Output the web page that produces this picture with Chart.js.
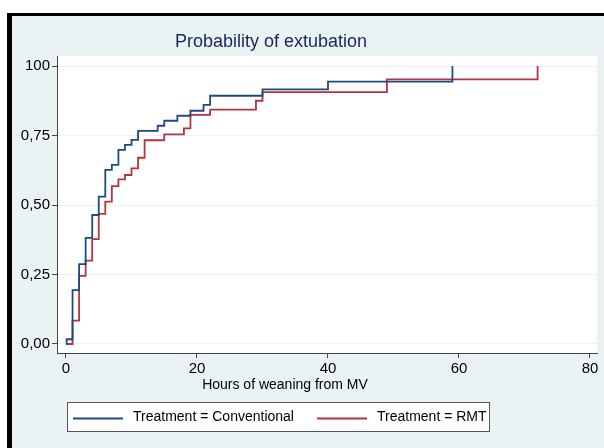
<!DOCTYPE html>
<html>
<head>
<meta charset="utf-8">
<script src="https://cdn.jsdelivr.net/npm/chart.js@4.4.1/dist/chart.umd.min.js"></script>
<style>
  html, body { margin: 0; padding: 0; background: #fff; }
  #frame {
    position: absolute; left: 7px; top: 13px; width: 592px; height: 432px;
    border-top: 3px solid #000; border-left: 5px solid #000; background: #eaf2f3;
  }
  #wrap { position: absolute; left: 0; top: 0; width: 604px; height: 448px; }
</style>
</head>
<body>
<div id="frame"></div>
<div id="wrap"><canvas id="km" width="604" height="448"></canvas></div>
<script>
// Kaplan-Meier failure estimates (hours, probability)
const convTimes = [0, 0.1, 1, 2, 3, 4, 5, 6, 7, 8, 9, 10, 11, 14, 15, 17, 19, 21, 22, 30, 40, 59];
const convProb  = [0, 0.017, 0.194, 0.287, 0.382, 0.464, 0.53, 0.626, 0.644, 0.698, 0.716, 0.734, 0.767, 0.785, 0.803, 0.821, 0.839, 0.86, 0.893, 0.916, 0.944, 1.0];
const rmtTimes  = [0, 1, 2, 3, 4, 5, 6, 7, 8, 9, 10, 11, 12, 15, 18, 19, 22, 29, 30, 49, 72];
const rmtProb   = [0, 0.084, 0.245, 0.30, 0.377, 0.468, 0.512, 0.568, 0.592, 0.608, 0.632, 0.670, 0.733, 0.754, 0.776, 0.824, 0.843, 0.875, 0.906, 0.952, 1.0];

const xTicks = [0, 20, 40, 60, 80];
const yTicks = [0, 0.25, 0.5, 0.75, 1];
const yTickLabels = ['0,00', '0,25', '0,50', '0,75', '100'];

const seriesNames = ['Treatment = Conventional', 'Treatment = RMT'];
const seriesColors = ['#1f4a80', '#b3353f'];

const FONT = '"Liberation Sans", Arial, Helvetica, sans-serif';

const toPoints = (ts, ps) => ts.map((t, i) => ({ x: t, y: ps[i] }));

// white plot region
const plotBg = {
  id: 'plotBg',
  beforeDraw(chart) {
    const { ctx, chartArea: a } = chart;
    ctx.save();
    ctx.fillStyle = '#fff';
    ctx.fillRect(a.left, a.top, a.right - a.left, a.bottom - a.top);
    ctx.restore();
  }
};

// title, axis title and boxed legend in Stata style
const decor = {
  id: 'decor',
  afterDraw(chart) {
    const ctx = chart.ctx;
    ctx.save();
    ctx.textBaseline = 'middle';

    ctx.fillStyle = '#14285a';
    ctx.font = '18px ' + FONT;
    ctx.textAlign = 'center';
    ctx.fillText('Probability of extubation', 271, 42);

    ctx.fillStyle = '#000';
    ctx.font = '14px ' + FONT;
    ctx.fillText('Hours of weaning from MV', 285, 385);

    // legend
    ctx.fillStyle = '#fff';
    ctx.fillRect(67, 402, 422, 29);
    ctx.strokeStyle = '#555';
    ctx.lineWidth = 1;
    ctx.strokeRect(67.5, 402.5, 422, 29);

    const items = [[73, 133], [317, 377]];
    items.forEach(([lx, tx], i) => {
      ctx.strokeStyle = seriesColors[i];
      ctx.lineWidth = 1.8;
      ctx.beginPath();
      ctx.moveTo(lx, 418.5);
      ctx.lineTo(lx + 50, 418.5);
      ctx.stroke();
      ctx.fillStyle = '#000';
      ctx.textAlign = 'left';
      ctx.fillText(seriesNames[i], tx, 417);
    });
    ctx.restore();
  }
};

new Chart(document.getElementById('km'), {
  type: 'line',
  data: {
    datasets: [
      { label: seriesNames[0], data: toPoints(convTimes, convProb), borderColor: seriesColors[0], borderWidth: 1.8, pointRadius: 0, stepped: 'before', fill: false },
      { label: seriesNames[1], data: toPoints(rmtTimes, rmtProb), borderColor: seriesColors[1], borderWidth: 1.8, pointRadius: 0, stepped: 'before', fill: false }
    ]
  },
  options: {
    responsive: false,
    animation: false,
    events: [],
    layout: { padding: { top: 56, right: 7, bottom: 0, left: 0 } },
    plugins: { legend: { display: false }, title: { display: false }, tooltip: { enabled: false } },
    scales: {
      x: {
        type: 'linear',
        min: -1.374, max: 81.07,
        afterBuildTicks: s => { s.ticks = xTicks.map(v => ({ value: v })); },
        afterFit: s => { s.height = 95; },
        grid: { drawOnChartArea: false, tickColor: '#444', tickLength: 5 },
        border: { color: '#444', width: 1 },
        ticks: { color: '#000', font: { family: FONT, size: 15 }, padding: 2, maxRotation: 0 }
      },
      y: {
        type: 'linear',
        min: -0.0324, max: 1.036,
        afterBuildTicks: s => { s.ticks = yTicks.map(v => ({ value: v })); },
        afterFit: s => { s.width = 57; },
        grid: { color: '#eaf2f3', tickColor: '#444', tickLength: 5, lineWidth: 1 },
        border: { color: '#444', width: 1 },
        ticks: {
          color: '#000', font: { family: FONT, size: 15 }, padding: 2,
          callback: v => yTickLabels[yTicks.indexOf(v)]
        }
      }
    }
  },
  plugins: [plotBg, decor]
});
</script>
</body>
</html>
